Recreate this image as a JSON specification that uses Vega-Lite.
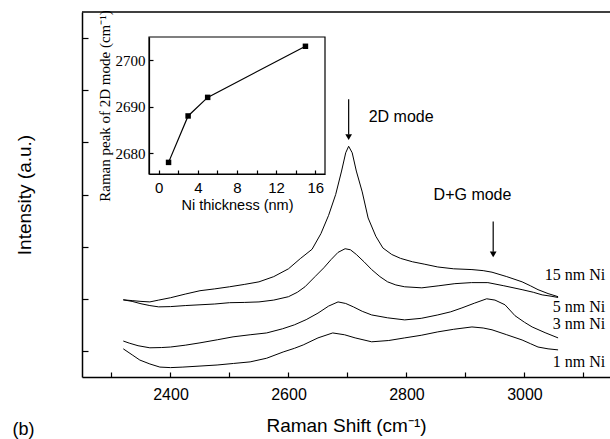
{
  "$schema": "https://vega.github.io/schema/vega-lite/v6.json",
  "width": 528,
  "height": 365,
  "autosize": {"type": "none"},
  "padding": {"left": 82, "top": 12, "right": 0, "bottom": 62},
  "config": {
    "view": {"stroke": null},
    "axis": {"domainColor": "black", "tickColor": "black", "labelColor": "black", "titleColor": "black", "grid": false, "domainWidth": 1.5, "tickWidth": 1.2, "titleFontWeight": "normal"}
  },
  "datasets": {
    "spectra": [
      {"s": "15", "x": 2320, "y": 2.96}, {"s": "15", "x": 2335, "y": 2.93}, {"s": "15", "x": 2350, "y": 2.9}, {"s": "15", "x": 2365, "y": 2.88}, {"s": "15", "x": 2380, "y": 2.95}, {"s": "15", "x": 2400, "y": 3.04}, {"s": "15", "x": 2425, "y": 3.18}, {"s": "15", "x": 2450, "y": 3.31}, {"s": "15", "x": 2475, "y": 3.38}, {"s": "15", "x": 2500, "y": 3.46}, {"s": "15", "x": 2525, "y": 3.55}, {"s": "15", "x": 2550, "y": 3.65}, {"s": "15", "x": 2575, "y": 3.85}, {"s": "15", "x": 2600, "y": 4.15}, {"s": "15", "x": 2620, "y": 4.54}, {"s": "15", "x": 2640, "y": 4.9}, {"s": "15", "x": 2655, "y": 5.5}, {"s": "15", "x": 2668, "y": 6.2}, {"s": "15", "x": 2680, "y": 7.0}, {"s": "15", "x": 2690, "y": 7.9}, {"s": "15", "x": 2697, "y": 8.6}, {"s": "15", "x": 2702, "y": 8.85}, {"s": "15", "x": 2708, "y": 8.6}, {"s": "15", "x": 2715, "y": 7.9}, {"s": "15", "x": 2725, "y": 7.1}, {"s": "15", "x": 2735, "y": 6.1}, {"s": "15", "x": 2748, "y": 5.4}, {"s": "15", "x": 2760, "y": 4.95}, {"s": "15", "x": 2775, "y": 4.7}, {"s": "15", "x": 2790, "y": 4.55}, {"s": "15", "x": 2810, "y": 4.42}, {"s": "15", "x": 2830, "y": 4.33}, {"s": "15", "x": 2853, "y": 4.22}, {"s": "15", "x": 2880, "y": 4.15}, {"s": "15", "x": 2911, "y": 4.12}, {"s": "15", "x": 2930, "y": 4.08}, {"s": "15", "x": 2945, "y": 4.02}, {"s": "15", "x": 2970, "y": 3.85}, {"s": "15", "x": 2996, "y": 3.65}, {"s": "15", "x": 3010, "y": 3.5}, {"s": "15", "x": 3023, "y": 3.35}, {"s": "15", "x": 3040, "y": 3.2}, {"s": "15", "x": 3057, "y": 3.08},
      {"s": "5", "x": 2320, "y": 2.96}, {"s": "5", "x": 2335, "y": 2.9}, {"s": "5", "x": 2350, "y": 2.81}, {"s": "5", "x": 2365, "y": 2.74}, {"s": "5", "x": 2380, "y": 2.69}, {"s": "5", "x": 2400, "y": 2.7}, {"s": "5", "x": 2425, "y": 2.74}, {"s": "5", "x": 2450, "y": 2.77}, {"s": "5", "x": 2475, "y": 2.8}, {"s": "5", "x": 2500, "y": 2.85}, {"s": "5", "x": 2525, "y": 2.86}, {"s": "5", "x": 2550, "y": 2.88}, {"s": "5", "x": 2575, "y": 2.95}, {"s": "5", "x": 2600, "y": 3.08}, {"s": "5", "x": 2615, "y": 3.25}, {"s": "5", "x": 2628, "y": 3.46}, {"s": "5", "x": 2645, "y": 3.85}, {"s": "5", "x": 2660, "y": 4.19}, {"s": "5", "x": 2672, "y": 4.5}, {"s": "5", "x": 2684, "y": 4.78}, {"s": "5", "x": 2696, "y": 4.92}, {"s": "5", "x": 2705, "y": 4.88}, {"s": "5", "x": 2715, "y": 4.7}, {"s": "5", "x": 2728, "y": 4.42}, {"s": "5", "x": 2741, "y": 4.12}, {"s": "5", "x": 2755, "y": 3.85}, {"s": "5", "x": 2768, "y": 3.65}, {"s": "5", "x": 2782, "y": 3.53}, {"s": "5", "x": 2797, "y": 3.46}, {"s": "5", "x": 2826, "y": 3.42}, {"s": "5", "x": 2855, "y": 3.5}, {"s": "5", "x": 2882, "y": 3.58}, {"s": "5", "x": 2910, "y": 3.62}, {"s": "5", "x": 2938, "y": 3.62}, {"s": "5", "x": 2965, "y": 3.5}, {"s": "5", "x": 2996, "y": 3.35}, {"s": "5", "x": 3015, "y": 3.25}, {"s": "5", "x": 3030, "y": 3.15}, {"s": "5", "x": 3045, "y": 3.1}, {"s": "5", "x": 3057, "y": 3.05},
      {"s": "3", "x": 2320, "y": 1.38}, {"s": "3", "x": 2330, "y": 1.3}, {"s": "3", "x": 2345, "y": 1.2}, {"s": "3", "x": 2365, "y": 1.12}, {"s": "3", "x": 2385, "y": 1.13}, {"s": "3", "x": 2400, "y": 1.15}, {"s": "3", "x": 2425, "y": 1.22}, {"s": "3", "x": 2450, "y": 1.31}, {"s": "3", "x": 2480, "y": 1.43}, {"s": "3", "x": 2506, "y": 1.54}, {"s": "3", "x": 2535, "y": 1.62}, {"s": "3", "x": 2563, "y": 1.69}, {"s": "3", "x": 2590, "y": 1.85}, {"s": "3", "x": 2610, "y": 2.0}, {"s": "3", "x": 2630, "y": 2.2}, {"s": "3", "x": 2650, "y": 2.45}, {"s": "3", "x": 2668, "y": 2.72}, {"s": "3", "x": 2684, "y": 2.88}, {"s": "3", "x": 2697, "y": 2.82}, {"s": "3", "x": 2710, "y": 2.69}, {"s": "3", "x": 2725, "y": 2.52}, {"s": "3", "x": 2741, "y": 2.38}, {"s": "3", "x": 2768, "y": 2.27}, {"s": "3", "x": 2797, "y": 2.19}, {"s": "3", "x": 2825, "y": 2.25}, {"s": "3", "x": 2853, "y": 2.38}, {"s": "3", "x": 2875, "y": 2.5}, {"s": "3", "x": 2894, "y": 2.65}, {"s": "3", "x": 2915, "y": 2.83}, {"s": "3", "x": 2936, "y": 3.0}, {"s": "3", "x": 2950, "y": 2.95}, {"s": "3", "x": 2967, "y": 2.77}, {"s": "3", "x": 2984, "y": 2.35}, {"s": "3", "x": 3000, "y": 2.1}, {"s": "3", "x": 3013, "y": 1.92}, {"s": "3", "x": 3035, "y": 1.7}, {"s": "3", "x": 3057, "y": 1.5},
      {"s": "1", "x": 2320, "y": 1.08}, {"s": "1", "x": 2335, "y": 0.85}, {"s": "1", "x": 2348, "y": 0.65}, {"s": "1", "x": 2365, "y": 0.5}, {"s": "1", "x": 2382, "y": 0.38}, {"s": "1", "x": 2400, "y": 0.36}, {"s": "1", "x": 2421, "y": 0.38}, {"s": "1", "x": 2450, "y": 0.42}, {"s": "1", "x": 2479, "y": 0.46}, {"s": "1", "x": 2507, "y": 0.52}, {"s": "1", "x": 2535, "y": 0.58}, {"s": "1", "x": 2563, "y": 0.72}, {"s": "1", "x": 2591, "y": 0.96}, {"s": "1", "x": 2610, "y": 1.1}, {"s": "1", "x": 2625, "y": 1.23}, {"s": "1", "x": 2650, "y": 1.5}, {"s": "1", "x": 2675, "y": 1.69}, {"s": "1", "x": 2695, "y": 1.62}, {"s": "1", "x": 2713, "y": 1.5}, {"s": "1", "x": 2741, "y": 1.35}, {"s": "1", "x": 2770, "y": 1.4}, {"s": "1", "x": 2797, "y": 1.5}, {"s": "1", "x": 2825, "y": 1.6}, {"s": "1", "x": 2853, "y": 1.73}, {"s": "1", "x": 2880, "y": 1.83}, {"s": "1", "x": 2911, "y": 1.92}, {"s": "1", "x": 2930, "y": 1.88}, {"s": "1", "x": 2945, "y": 1.81}, {"s": "1", "x": 2970, "y": 1.62}, {"s": "1", "x": 2996, "y": 1.42}, {"s": "1", "x": 3010, "y": 1.28}, {"s": "1", "x": 3023, "y": 1.15}, {"s": "1", "x": 3040, "y": 1.08}, {"s": "1", "x": 3057, "y": 1.04}
    ],
    "labels": [
      {"t": "15 nm Ni", "x": 3137, "y": 3.92},
      {"t": "5 nm Ni", "x": 3137, "y": 2.67},
      {"t": "3 nm Ni", "x": 3137, "y": 2.02},
      {"t": "1 nm Ni", "x": 3137, "y": 0.58}
    ],
    "notes": [
      {"t": "2D mode", "x": 2736, "y": 9.96},
      {"t": "D+G mode", "x": 2846, "y": 7.0}
    ],
    "arrows": [
      {"a": "2D", "x": 2702, "y": 10.65, "y2": 9.3, "tip": 9.2},
      {"a": "DG", "x": 2947, "y": 5.96, "y2": 4.8, "tip": 4.7}
    ],
    "inset": [
      {"ni": 1, "peak": 2678},
      {"ni": 3, "peak": 2688},
      {"ni": 5, "peak": 2692},
      {"ni": 15, "peak": 2703}
    ]
  },
  "layer": [
    {
      "layer": [
        {
          "data": {"name": "spectra"},
          "mark": {"type": "line", "color": "black", "strokeWidth": 1},
          "encoding": {
            "x": {"field": "x", "type": "quantitative", "title": "Raman Shift (cm⁻¹)",
              "scale": {"domain": [2250, 3145], "nice": false, "zero": false},
              "axis": {"values": [2300, 2400, 2500, 2600, 2700, 2800, 2900, 3000, 3100], "format": "d",
                "labelExpr": "datum.value % 200 === 0 ? datum.label : ''",
                "tickSize": -5, "labelPadding": 14, "labelFont": "Liberation Sans", "labelFontSize": 16,
                "titleFont": "Liberation Sans", "titleFontSize": 19, "titlePadding": 14}},
            "y": {"field": "y", "type": "quantitative", "title": "Intensity (a.u.)",
              "scale": {"domain": [0, 14], "nice": false, "zero": false},
              "axis": {"values": [1, 2, 3, 4, 5, 6, 7, 8, 9, 10, 11, 12, 13], "labels": false, "tickSize": -6,
                "titleFont": "Liberation Sans", "titleFontSize": 19, "titlePadding": 47}},
            "detail": {"field": "s"}
          }
        },
        {
          "data": {"values": [{"y": 14}]},
          "mark": {"type": "rule", "color": "black", "strokeWidth": 1.5},
          "encoding": {"y": {"field": "y", "type": "quantitative", "title": "Intensity (a.u.)"}}
        },
        {
          "data": {"name": "labels"},
          "mark": {"type": "text", "align": "right", "baseline": "middle", "font": "Liberation Serif", "fontSize": 16, "color": "black"},
          "encoding": {
            "x": {"field": "x", "type": "quantitative", "title": "Raman Shift (cm⁻¹)"},
            "y": {"field": "y", "type": "quantitative", "title": "Intensity (a.u.)"},
            "text": {"field": "t"}
          }
        },
        {
          "data": {"name": "notes"},
          "mark": {"type": "text", "align": "left", "baseline": "middle", "font": "Liberation Sans", "fontSize": 16, "color": "black"},
          "encoding": {
            "x": {"field": "x", "type": "quantitative", "title": "Raman Shift (cm⁻¹)"},
            "y": {"field": "y", "type": "quantitative", "title": "Intensity (a.u.)"},
            "text": {"field": "t"}
          }
        },
        {
          "data": {"name": "arrows"},
          "mark": {"type": "rule", "color": "black", "strokeWidth": 1.2},
          "encoding": {
            "x": {"field": "x", "type": "quantitative", "title": "Raman Shift (cm⁻¹)"},
            "y": {"field": "y", "type": "quantitative", "title": "Intensity (a.u.)"},
            "y2": {"field": "y2"}
          }
        },
        {
          "data": {"name": "arrows"},
          "mark": {"type": "point", "shape": "triangle-down", "filled": true, "color": "black", "size": 45, "opacity": 1},
          "encoding": {
            "x": {"field": "x", "type": "quantitative", "title": "Raman Shift (cm⁻¹)"},
            "y": {"field": "tip", "type": "quantitative", "title": "Intensity (a.u.)"}
          }
        },
        {
          "data": {"values": [{"t": "(b)", "x": 2132, "y": -2.04}]},
          "mark": {"type": "text", "align": "left", "baseline": "middle", "font": "Liberation Sans", "fontSize": 18, "color": "black"},
          "encoding": {
            "x": {"field": "x", "type": "quantitative", "title": "Raman Shift (cm⁻¹)"},
            "y": {"field": "y", "type": "quantitative", "title": "Intensity (a.u.)"},
            "text": {"field": "t"}
          }
        }
      ]
    },
    {
      "layer": [
        {
          "data": {"values": [{"x1": -1, "x2": 17, "y1": 2675.5, "y2": 2705}]},
          "mark": {"type": "rect", "fillOpacity": 0, "stroke": "black", "strokeWidth": 1.2},
          "encoding": {
            "x": {"field": "x1", "type": "quantitative", "title": "Ni thickness (nm)"},
            "x2": {"field": "x2"},
            "y": {"field": "y1", "type": "quantitative", "title": "Raman peak of 2D mode (cm⁻¹)"},
            "y2": {"field": "y2"}
          }
        },
        {
          "data": {"name": "inset"},
          "mark": {"type": "line", "color": "black", "strokeWidth": 1.2, "point": {"shape": "square", "filled": true, "color": "black", "size": 30, "opacity": 1}},
          "encoding": {
            "x": {"field": "ni", "type": "quantitative", "title": "Ni thickness (nm)",
              "scale": {"domain": [-1, 17], "range": [67, 243], "nice": false, "zero": false},
              "axis": {"orient": "bottom", "offset": -203, "values": [0, 2, 4, 6, 8, 10, 12, 14, 16],
                "labelExpr": "datum.value % 4 === 0 ? datum.label : ''",
                "tickSize": -4, "labelPadding": 10, "labelFont": "Liberation Sans", "labelFontSize": 15,
                "titleFont": "Liberation Sans", "titleFontSize": 14.5, "titlePadding": 3, "domainWidth": 1.2}},
            "y": {"field": "peak", "type": "quantitative", "title": "Raman peak of 2D mode (cm⁻¹)",
              "scale": {"domain": [2675.5, 2705], "range": [162, 25], "nice": false, "zero": false},
              "axis": {"orient": "left", "offset": -67, "values": [2680, 2690, 2700], "format": "d",
                "tickSize": -4, "labelPadding": 8, "labelFont": "Liberation Serif", "labelFontSize": 15,
                "titleFont": "Liberation Serif", "titleFontSize": 15, "titlePadding": 3, "domainWidth": 1.2}}
          }
        }
      ]
    }
  ],
  "resolve": {"scale": {"x": "independent", "y": "independent"}, "axis": {"x": "independent", "y": "independent"}}
}
